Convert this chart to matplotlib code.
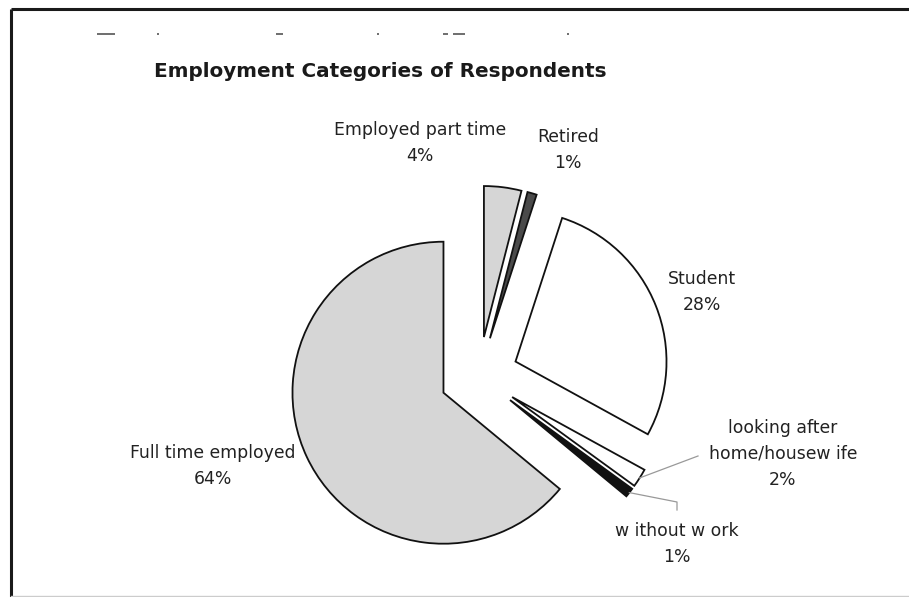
import numpy as np
import matplotlib.pyplot as plt

# chart data (clockwise from 12 o'clock)
categories = ["Employed part time", "Retired", "Student",
              "looking after\nhome/housew ife", "w ithout w ork", "Full time employed"]
percents = [4, 1, 28, 2, 1, 64]
colors = ["#d6d6d6", "#4a4a4a", "white", "white", "#111111", "#d6d6d6"]
title = "Employment Categories of Respondents"

W, H = 909, 597
R = 151


def main():
    fig = plt.figure(figsize=(W / 100, H / 100), dpi=100)
    ax = fig.add_axes([0, 0, 1, 1])

    # pixel helper: y measured from the top
    def py(y):
        return H - y

    wedges, _ = ax.pie(percents, colors=colors, startangle=90, counterclock=False,
                       explode=[0.26 * R] * len(percents), center=(479, py(376)), radius=R,
                       wedgeprops=dict(edgecolor="#111111", linewidth=1.3),
                       frame=True)
    ax.set_xlim(0, W)
    ax.set_ylim(0, H)
    ax.axis("off")

    # frame of the chart area
    ax.plot([11, W], [py(9), py(9)], color="#1a1a1a", lw=2.2, solid_capstyle="butt")
    ax.plot([11, 11], [py(9), 0], color="#1a1a1a", lw=2.2, solid_capstyle="butt")
    ax.plot([11, W], [py(596), py(596)], color="#cccccc", lw=1)

    # cut-off fragments of a line of text above the title
    for x0, x1 in [(97, 115), (157, 159), (276, 283), (377, 379), (443, 448), (453, 465), (567, 569)]:
        ax.plot([x0, x1], [py(34), py(34)], color="#555555", lw=1.2, solid_capstyle="butt")

    ax.text(380, py(77), title, ha="center", va="baseline", fontsize=14.4,
            fontweight="bold", color="#1a1a1a")

    txt = dict(ha="center", va="center", fontsize=12.4, color="#222222",
               linespacing=1.6, multialignment="center")
    label_pos = [(420, 143), (568, 150), (702, 292), (783, 454), (677, 544), (213, 466)]
    for name, p, (x, y) in zip(categories, percents, label_pos):
        ax.text(x, py(y), f"{name}\n{p}%", **txt)

    # leader lines from the two thin slices
    def outer_mid(w):
        a = np.deg2rad((w.theta1 + w.theta2) / 2)
        return w.center[0] + w.r * np.cos(a), w.center[1] + w.r * np.sin(a)

    hx, hy = outer_mid(wedges[3])
    ax.plot([hx, 698], [hy, py(456)], color="#999999", lw=0.9)
    wx, wy = outer_mid(wedges[4])
    ax.plot([wx, 677, 677], [wy, py(502), py(510)], color="#999999", lw=0.9)

    plt.savefig("out.png", dpi=100)


if __name__ == "__main__":
    main()
